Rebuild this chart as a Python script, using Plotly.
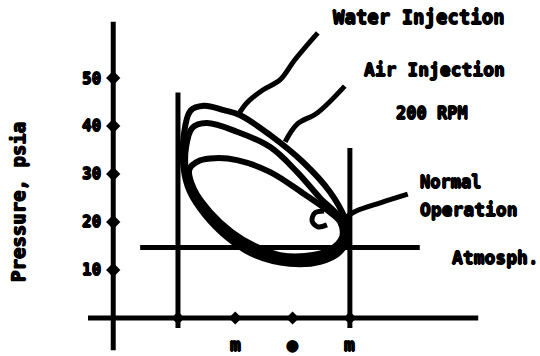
import plotly.graph_objects as go

# Indicator loops: x = stroke position, p = pressure (psia)
water_x = [0.10, 0.22, 0.45, 0.80, 1.08, 1.61, 2.18, 2.65, 2.91, 2.97, 2.83, 2.48, 1.95, 1.34, 0.87, 0.47, 0.20, 0.10, 0.10]
water_p = [38.0, 43.2, 44.2, 43.3, 42.3, 38.1, 32.5, 26.3, 20.8, 17.3, 13.8, 11.7, 11.3, 13.1, 16.7, 21.5, 26.5, 31.0, 38.0]

air_x = [0.14, 0.25, 0.50, 1.03, 1.61, 2.08, 2.48, 2.83, 2.91, 2.74, 2.30, 1.87, 1.34, 0.91, 0.52, 0.24, 0.14, 0.14]
air_p = [35.5, 39.6, 40.6, 38.8, 35.6, 30.4, 25.0, 20.8, 16.7, 13.8, 12.1, 12.1, 14.2, 17.3, 21.9, 26.5, 30.5, 35.5]

normal_x = [0.20, 0.38, 0.65, 1.03, 1.61, 2.18, 2.60, 2.83, 2.86, 2.65, 2.22, 1.78, 1.34, 0.94, 0.56, 0.28, 0.20]
normal_p = [31.0, 32.8, 33.3, 32.9, 30.4, 26.0, 22.5, 20.0, 16.7, 14.2, 12.9, 13.1, 15.0, 17.9, 22.1, 26.8, 31.0]

atmospheric_p = 14.7
y_ticks = [10, 20, 30, 40, 50]
y_tick_labels = ["10", "20", "30", "40", "50"]
x_ticks = [1, 2, 3]
x_tick_labels = ["m", "●", "m"]

# Leader lines from the labels to the loops
water_lead_x = [2.44, 2.04, 1.78, 1.48, 1.20, 1.05]
water_lead_p = [59.4, 53.8, 49.6, 47.5, 44.8, 42.3]
air_lead_x = [2.91, 2.43, 2.08, 1.87]
air_lead_p = [48.3, 42.7, 40.4, 36.7]
normal_lead_x = [4.01, 3.53, 3.11, 2.91]
normal_lead_p = [25.8, 24.0, 22.3, 20.8]
hook_x = [2.55, 2.39, 2.34, 2.44, 2.60]
hook_p = [22.3, 21.9, 20.2, 19.0, 19.4]

INK = "black"
FONT = "DejaVu Sans Mono"
HEAVY = "0.7px 0 0 black, -0.7px 0 0 black, 0 0.7px 0 black, 0 -0.7px 0 black"

fig = go.Figure()


def line(xs, ys, width, shape="linear"):
    fig.add_trace(go.Scatter(x=xs, y=ys, mode="lines", line=dict(color=INK, width=width, shape=shape),
                             hoverinfo="skip", showlegend=False))


# Frame: pressure axis, zero line, stroke limits, atmospheric line
line([-1.13, -1.13], [-6.7, 61.7], 5)
line([-1.57, 5.24], [0, 0], 5)
line([0, 0], [-2.1, 47.0], 5)
line([3, 3], [-2.1, 35.4], 5)
line([-0.66, 4.22], [atmospheric_p, atmospheric_p], 5)

# Tick marks
fig.add_trace(go.Scatter(x=[-1.13] * len(y_ticks), y=y_ticks, mode="markers",
                         marker=dict(symbol="diamond", size=11, color=INK), hoverinfo="skip", showlegend=False))
fig.add_trace(go.Scatter(x=[0] + x_ticks, y=[0] * (len(x_ticks) + 1), mode="markers",
                         marker=dict(symbol="diamond", size=10, color=INK), hoverinfo="skip", showlegend=False))

# Loops
line(water_x, water_p, 6, "spline")
line(air_x, air_p, 6, "spline")
line(normal_x, normal_p, 6, "spline")

# Leaders
line(water_lead_x, water_lead_p, 5, "spline")
line(air_lead_x, air_lead_p, 5, "spline")
line(normal_lead_x, normal_lead_p, 5, "spline")
line(hook_x, hook_p, 5, "spline")

ann = []


def text(x, y, s, size, xanchor="center", angle=0):
    ann.append(dict(x=x, y=y, text="<b>" + s + "</b>", showarrow=False, xanchor=xanchor, yanchor="middle",
                    textangle=angle, font=dict(family=FONT, size=size, color=INK, shadow=HEAVY)))


for v, lab in zip(y_ticks, y_tick_labels):
    text(-1.30, v, lab, 16, xanchor="right")
for v, lab in zip(x_ticks, x_tick_labels):
    text(v, -5.6, lab, 18)

text(4.21, 62.7, "Water Injection", 19)
text(4.47, 51.7, "Air Injection", 18)
text(4.43, 42.7, "200 RPM", 17)
text(4.19, 28.3, "Normal", 17, xanchor="left")
text(4.19, 22.5, "Operation", 18, xanchor="left")
text(4.75, 12.7, "Atmosph.", 18, xanchor="left")
text(-2.79, 24.2, "Pressure, psia", 19, angle=-90)

fig.update_layout(
    width=540, height=356, autosize=False,
    margin=dict(l=0, r=0, t=0, b=0),
    paper_bgcolor="white", plot_bgcolor="white",
    xaxis=dict(range=[-3.106, 6.318], visible=False, fixedrange=True),
    yaxis=dict(range=[-7.92, 66.25], visible=False, fixedrange=True),
    annotations=ann,
)

fig.write_html("out.html")
